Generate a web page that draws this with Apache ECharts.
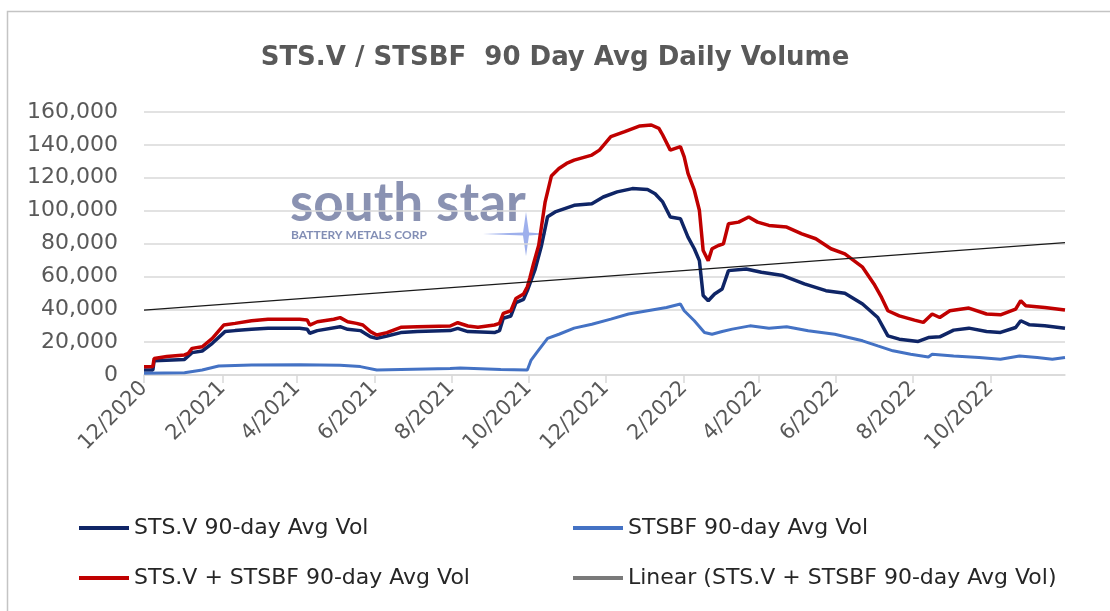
<!DOCTYPE html>
<html>
<head>
<meta charset="utf-8">
<title>STS.V / STSBF 90 Day Avg Daily Volume</title>
<script src="https://cdn.jsdelivr.net/npm/echarts@6/dist/echarts.min.js"></script>
<style>
html, body { margin: 0; padding: 0; background: #fff; }
#chart { width: 1110px; height: 611px; }
</style>
</head>
<body>
<div id="chart"></div>
<script>
// tick / label dates on the x axis (every 2 months)
var tickDates = ['2020-12-01', '2021-02-01', '2021-04-01', '2021-06-01', '2021-08-01', '2021-10-01',
    '2021-12-01', '2022-02-01', '2022-04-01', '2022-06-01', '2022-08-01', '2022-10-01']
var yTicks = [0, 20000, 40000, 60000, 80000, 100000, 120000, 140000, 160000]
var seriesNames = ['STS.V 90-day Avg Vol', 'STSBF 90-day Avg Vol', 'STS.V + STSBF 90-day Avg Vol', 'Linear (STS.V + STSBF 90-day Avg Vol)']

var stsvData = [
    ['2020-12-01', 3000], ['2020-12-08', 3000], ['2020-12-09', 8700], ['2021-01-02', 9500],
    ['2021-01-08', 13600], ['2021-01-16', 14600], ['2021-01-24', 19300], ['2021-02-03', 26400],
    ['2021-02-11', 27000], ['2021-02-24', 27800], ['2021-03-09', 28400], ['2021-04-03', 28400],
    ['2021-04-09', 27800], ['2021-04-11', 25400], ['2021-04-17', 27000], ['2021-05-05', 29400],
    ['2021-05-11', 27800], ['2021-05-21', 27000], ['2021-05-29', 23300], ['2021-06-03', 22300],
    ['2021-06-11', 23700], ['2021-06-22', 25800], ['2021-07-05', 26400], ['2021-07-31', 27000],
    ['2021-08-06', 28400], ['2021-08-14', 26400], ['2021-09-04', 25800], ['2021-09-08', 27000],
    ['2021-09-11', 34500], ['2021-09-17', 35900], ['2021-09-21', 44000], ['2021-09-27', 46000],
    ['2021-09-30', 51300], ['2021-10-06', 63900], ['2021-10-11', 78100], ['2021-10-16', 96300],
    ['2021-10-22', 99200], ['2021-11-06', 103200], ['2021-11-20', 104200], ['2021-11-29', 108300],
    ['2021-12-10', 111400], ['2021-12-22', 113400], ['2022-01-03', 112800], ['2022-01-09', 110300],
    ['2022-01-15', 105300], ['2022-01-21', 96100], ['2022-01-29', 95100], ['2022-02-04', 83900],
    ['2022-02-09', 76800], ['2022-02-13', 69600], ['2022-02-16', 48300], ['2022-02-20', 45200],
    ['2022-02-25', 49300], ['2022-03-03', 52300], ['2022-03-08', 63500], ['2022-03-22', 64500],
    ['2022-04-03', 62500], ['2022-04-20', 60500], ['2022-05-07', 55400], ['2022-05-24', 51300],
    ['2022-06-08', 49700], ['2022-06-22', 43200], ['2022-07-04', 35000], ['2022-07-12', 23800],
    ['2022-07-21', 21800], ['2022-08-05', 20400], ['2022-08-13', 22800], ['2022-08-22', 23200],
    ['2022-09-02', 27300], ['2022-09-14', 28500], ['2022-09-28', 26500], ['2022-10-09', 25900],
    ['2022-10-21', 28900], ['2022-10-25', 33000], ['2022-11-01', 30500], ['2022-11-13', 29900],
    ['2022-11-29', 28500]
]

var stsbfData = [
    ['2020-12-01', 1000], ['2021-01-02', 1400], ['2021-01-16', 3000], ['2021-01-29', 5500],
    ['2021-02-24', 6100], ['2021-04-03', 6300], ['2021-05-05', 5900], ['2021-05-21', 5100],
    ['2021-06-03', 3000], ['2021-06-22', 3400], ['2021-07-31', 3900], ['2021-08-08', 4300],
    ['2021-09-09', 3400], ['2021-09-30', 3000], ['2021-10-03', 9100], ['2021-10-08', 14200],
    ['2021-10-16', 22300], ['2021-10-25', 24800], ['2021-11-06', 28500], ['2021-11-20', 30900],
    ['2021-12-05', 34000], ['2021-12-19', 37100], ['2022-01-03', 39100], ['2022-01-18', 41100],
    ['2022-01-29', 43200], ['2022-02-01', 39100], ['2022-02-09', 33000], ['2022-02-17', 25900],
    ['2022-02-23', 24800], ['2022-03-03', 26500], ['2022-03-11', 27900], ['2022-03-25', 29900],
    ['2022-04-09', 28500], ['2022-04-23', 29300], ['2022-05-10', 26900], ['2022-05-31', 24800],
    ['2022-06-11', 22800], ['2022-06-22', 20800], ['2022-07-04', 17700], ['2022-07-16', 14700],
    ['2022-07-30', 12600], ['2022-08-13', 11000], ['2022-08-16', 12600], ['2022-09-02', 11600],
    ['2022-09-22', 10600], ['2022-10-09', 9600], ['2022-10-24', 11600], ['2022-11-07', 10600],
    ['2022-11-19', 9600], ['2022-11-29', 10600]
]

var totalData = [
    ['2020-12-01', 5000], ['2020-12-08', 5100], ['2020-12-09', 10100], ['2020-12-19', 11200],
    ['2021-01-02', 12200], ['2021-01-05', 13200], ['2021-01-08', 16200], ['2021-01-16', 17200],
    ['2021-01-24', 22300], ['2021-02-02', 30400], ['2021-02-11', 31400], ['2021-02-24', 33000],
    ['2021-03-09', 33900], ['2021-04-03', 33900], ['2021-04-09', 33500], ['2021-04-11', 30400],
    ['2021-04-17', 32400], ['2021-04-30', 33900], ['2021-05-05', 34900], ['2021-05-11', 32400],
    ['2021-05-18', 31400], ['2021-05-23', 30400], ['2021-05-29', 26400], ['2021-06-03', 24300],
    ['2021-06-11', 25800], ['2021-06-22', 29000], ['2021-07-05', 29400], ['2021-07-31', 29800],
    ['2021-08-06', 31800], ['2021-08-14', 29800], ['2021-08-22', 29000], ['2021-09-04', 30400],
    ['2021-09-08', 31400], ['2021-09-11', 37500], ['2021-09-17', 39100], ['2021-09-21', 46600],
    ['2021-09-27', 49300], ['2021-09-30', 53700], ['2021-10-02', 59000], ['2021-10-05', 68000],
    ['2021-10-09', 79000], ['2021-10-14', 105000], ['2021-10-19', 121000], ['2021-10-25', 125600],
    ['2021-10-31', 128700], ['2021-11-06', 130700], ['2021-11-20', 133800], ['2021-11-26', 136800],
    ['2021-12-05', 145000], ['2021-12-16', 148000], ['2021-12-28', 151500], ['2022-01-06', 152100],
    ['2022-01-12', 150100], ['2022-01-15', 146000], ['2022-01-21', 136800], ['2022-01-29', 138900],
    ['2022-02-01', 132700], ['2022-02-04', 122600], ['2022-02-09', 112400], ['2022-02-13', 100200],
    ['2022-02-16', 75700], ['2022-02-20', 69600], ['2022-02-23', 76800], ['2022-02-28', 78800],
    ['2022-03-04', 79800], ['2022-03-08', 92000], ['2022-03-16', 93000], ['2022-03-24', 96100],
    ['2022-03-31', 93000], ['2022-04-09', 91000], ['2022-04-23', 90000], ['2022-05-05', 85900],
    ['2022-05-16', 82900], ['2022-05-28', 76800], ['2022-06-08', 73700], ['2022-06-22', 65600],
    ['2022-07-01', 55400], ['2022-07-07', 47200], ['2022-07-12', 39100], ['2022-07-21', 36000],
    ['2022-08-02', 33400], ['2022-08-09', 32000], ['2022-08-16', 37100], ['2022-08-22', 35000],
    ['2022-08-30', 39100], ['2022-09-14', 40700], ['2022-09-28', 37100], ['2022-10-09', 36600],
    ['2022-10-21', 40100], ['2022-10-25', 45200], ['2022-10-29', 42100], ['2022-11-13', 41100],
    ['2022-11-29', 39500]
]

// trendline end points
var trendData = [['2020-12-01', 39500], ['2022-11-29', 80500]]

var xMin = '2020-12-01'
var xMax = '2022-11-29'


function toTime(s){
    var p = s.split('-')
    return new Date(+p[0], +p[1] - 1, +p[2]).getTime()
}

function toPairs(list){
    var out = []
    for (var row of list){
        out.push([toTime(row[0]), row[1]])
    }
    return(out)
}

function fmtThousands(v){
    return String(v).replace(/\B(?=(\d{3})+(?!\d))/g, ',')
}

function fmtMonth(v){
    var d = new Date(v)
    return (d.getMonth() + 1) + '/' + d.getFullYear()
}

function lineSeries(name, data, color, width){
    return {
        name: name,
        type: 'line',
        data: toPairs(data),
        showSymbol: false,
        symbol: 'none',
        smooth: false,
        lineStyle: { color: color, width: width },
        itemStyle: { color: color },
        emphasis: { disabled: true }
    }
}

function legendItem(name, color){
    var item = { name: name, icon: 'rect' }
    if (color){
        item.itemStyle = { color: color }
    }
    return(item)
}


function loadChart(){
    var chart = echarts.init(document.getElementById('chart'), null, { renderer: 'canvas' })
    var ticks = tickDates.map(toTime)
    var font = 'DejaVu Sans'
    var legendText = { fontFamily: font, fontSize: 22, color: '#262626', lineHeight: 22 }

    var option = {
        animation: false,
        backgroundColor: '#ffffff',
        title: {
            text: 'STS.V / STSBF  90 Day Avg Daily Volume',
            left: 'center',
            top: 45,
            padding: [0, 0, 0, 14],
            textStyle: {
                fontFamily: font,
                fontSize: 26,
                fontWeight: 'bold',
                color: '#595959'
            }
        },
        grid: {
            left: 144,
            right: 45,
            top: 112,
            bottom: 236,
            containLabel: false,
            outerBoundsMode: 'none'
        },
        legend: [{
            orient: 'vertical',
            left: 79,
            top: 517,
            padding: 0,
            itemWidth: 50,
            itemHeight: 4,
            itemGap: 28,
            selectedMode: false,
            data: [legendItem(seriesNames[0]), legendItem(seriesNames[2])],
            textStyle: legendText
        }, {
            orient: 'vertical',
            left: 573,
            top: 517,
            padding: 0,
            itemWidth: 50,
            itemHeight: 4,
            itemGap: 28,
            selectedMode: false,
            data: [legendItem(seriesNames[1]), legendItem(seriesNames[3], '#7a7a7a')],
            textStyle: legendText
        }],
        // dates are kept as timestamps on a linear value axis so the
        // 2-month ticks can be placed exactly where the original has them
        xAxis: {
            type: 'value',
            min: toTime(xMin),
            max: toTime(xMax),
            splitLine: { show: false },
            axisLine: { lineStyle: { color: '#d9d9d9', width: 1.5 } },
            axisTick: {
                customValues: ticks,
                length: 8,
                lineStyle: { color: '#d9d9d9', width: 1.5 }
            },
            axisLabel: {
                customValues: ticks,
                formatter: fmtMonth,
                rotate: 45,
                margin: 10,
                fontFamily: font,
                fontSize: 21,
                color: '#595959'
            }
        },
        yAxis: {
            type: 'value',
            min: yTicks[0],
            max: yTicks[yTicks.length - 1],
            interval: yTicks[1] - yTicks[0],
            axisLine: { show: false },
            axisTick: { show: false },
            splitLine: { lineStyle: { color: '#d9d9d9', width: 1.5 } },
            axisLabel: {
                formatter: fmtThousands,
                margin: 26,
                fontFamily: font,
                fontSize: 22,
                color: '#595959'
            }
        },
        graphic: [{
            type: 'rect',
            silent: true,
            shape: { x: 7.5, y: 11.5, width: 1200, height: 700 },
            style: { fill: 'none', stroke: '#c4c4c4', lineWidth: 1.5 }
        }, {
            type: 'text',
            silent: true,
            z: 0,
            x: 290,
            y: 204,
            style: {
                text: 'south star',
                font: 'bold 53px Lato',
                fill: '#8089ab',
                verticalAlign: 'middle',
                opacity: 0.92
            }
        }, {
            type: 'text',
            silent: true,
            z: 0,
            x: 291,
            y: 235,
            style: {
                text: 'BATTERY METALS CORP',
                font: 'bold 12px Lato',
                fill: '#7482ad',
                verticalAlign: 'middle',
                opacity: 0.9
            }
        }, {
            type: 'polygon',
            silent: true,
            z: 0,
            shape: {
                points: [[483, 234], [523, 232.5], [526, 212], [529, 232.5], [548, 234],
                    [529, 235.5], [526, 256], [523, 235.5]]
            },
            style: { fill: '#7e96e6', opacity: 0.75 }
        }],
        series: [
            lineSeries(seriesNames[0], stsvData, '#0f2566', 3.5),
            lineSeries(seriesNames[1], stsbfData, '#4472c4', 3),
            lineSeries(seriesNames[2], totalData, '#c00000', 3.5),
            lineSeries(seriesNames[3], trendData, '#1a1a1a', 1.3)
        ]
    }
    chart.setOption(option)
}

loadChart()
</script>
</body>
</html>
